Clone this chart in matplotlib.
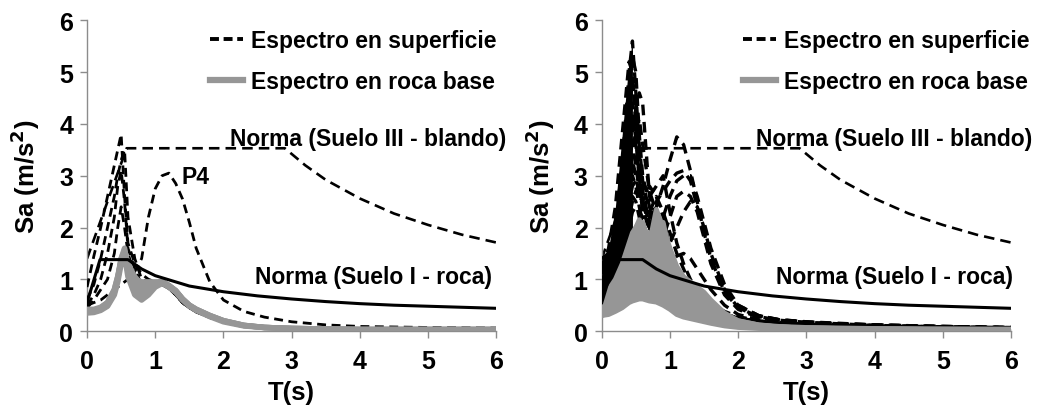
import matplotlib
matplotlib.use("Agg")
import matplotlib.pyplot as plt
from matplotlib.lines import Line2D
import numpy as np

plt.rcParams['font.family'] = ['Liberation Sans', 'DejaVu Sans']
plt.rcParams['font.weight'] = 'bold'
plt.rcParams['mathtext.default'] = 'bf'

# ---------------- data ----------------
T = [0, 0.1, 0.2, 0.3, 0.4, 0.45, 0.5, 0.55, 0.6, 0.7, 0.8, 0.9, 1.0, 1.1, 1.2,
     1.3, 1.4, 1.5, 1.6, 1.8, 2.0, 2.3, 2.6, 3.0, 3.5, 4.0, 5.0, 6.0]

# Norma spectra
T_norma_I = [0, 0.19, 0.6, 0.8, 1.0, 1.5, 2.0, 2.5, 3.0, 3.5, 4.0, 4.5, 5.0, 5.5, 6.0]
Sa_norma_I = [0.55, 1.38, 1.38, 1.20, 1.07, 0.87, 0.76, 0.68, 0.62, 0.57, 0.53, 0.50, 0.48, 0.46, 0.44]
T_norma_III = [0, 0.58, 2.9, 3.2, 3.5, 4.0, 4.5, 5.0, 5.5, 6.0]
Sa_norma_III = [1.40, 3.53, 3.53, 3.20, 2.92, 2.56, 2.27, 2.05, 1.86, 1.71]

# Left panel: surface spectra (dashed) and rock spectra (grey)
left_surface = [
    [0.85, 1.45, 2.0, 2.6, 3.2, 3.5, 3.8, 2.6, 1.7, 1.3, 1.1, 1.0, 0.95, 0.95, 0.85, 0.7, 0.55, 0.45, 0.38, 0.27, 0.2, 0.13, 0.09, 0.07, 0.06, 0.05, 0.04, 0.04],
    [0.6, 0.9, 1.4, 2.0, 2.6, 3.0, 3.3, 3.5, 2.2, 1.4, 1.0, 0.95, 0.9, 0.95, 0.85, 0.7, 0.55, 0.45, 0.38, 0.27, 0.2, 0.12, 0.09, 0.07, 0.06, 0.05, 0.04, 0.04],
    [0.5, 0.7, 1.0, 1.5, 2.2, 2.8, 3.1, 2.5, 1.6, 1.2, 0.9, 0.85, 0.85, 0.9, 0.82, 0.7, 0.55, 0.45, 0.37, 0.26, 0.19, 0.12, 0.08, 0.06, 0.05, 0.04, 0.04, 0.03],
    [0.45, 0.6, 0.8, 1.0, 1.5, 2.0, 2.4, 2.0, 1.5, 1.1, 0.8, 0.8, 0.85, 0.9, 0.82, 0.7, 0.55, 0.45, 0.37, 0.26, 0.19, 0.12, 0.08, 0.06, 0.05, 0.04, 0.04, 0.03],
]
P4 = [0.5, 0.55, 0.6, 0.7, 0.8, 0.85, 0.9, 0.95, 1.0, 1.15, 1.4, 2.2, 2.75, 3.0, 3.05, 2.85, 2.55, 2.1, 1.6, 0.95, 0.6, 0.38, 0.27, 0.18, 0.12, 0.09, 0.07, 0.06]
left_rock = [
    [0.38, 0.38, 0.42, 0.5, 0.75, 1.0, 1.4, 1.6, 1.15, 0.85, 0.75, 0.85, 0.9, 0.95, 0.88, 0.78, 0.62, 0.5, 0.42, 0.3, 0.2, 0.11, 0.07, 0.05, 0.04, 0.03, 0.03, 0.03],
    [0.4, 0.4, 0.45, 0.55, 0.8, 1.05, 1.35, 1.5, 1.2, 1.0, 0.95, 0.95, 0.95, 0.95, 0.88, 0.78, 0.62, 0.5, 0.42, 0.3, 0.2, 0.11, 0.07, 0.05, 0.04, 0.03, 0.03, 0.03],
    [0.35, 0.36, 0.4, 0.48, 0.7, 0.95, 1.3, 1.45, 1.05, 0.7, 0.6, 0.7, 0.85, 0.92, 0.85, 0.75, 0.6, 0.48, 0.4, 0.28, 0.18, 0.1, 0.07, 0.05, 0.04, 0.03, 0.03, 0.03],
    [0.42, 0.42, 0.46, 0.55, 0.8, 1.05, 1.4, 1.55, 1.3, 1.05, 0.9, 0.88, 0.92, 0.96, 0.88, 0.78, 0.62, 0.5, 0.42, 0.3, 0.2, 0.11, 0.07, 0.05, 0.04, 0.03, 0.03, 0.03],
]

# Right panel: surface spectra (dashed) and rock spectra (grey)
right_surface = [
    [0.9, 1.3, 2.0, 3.2, 5.0, 5.6, 4.6, 3.6, 2.9, 2.3, 2.0, 1.6, 1.2, 0.95, 0.8, 0.65, 0.55, 0.45, 0.38, 0.28, 0.22, 0.17, 0.14, 0.12, 0.1, 0.09, 0.07, 0.06],
    [1.1, 1.4, 1.9, 2.8, 4.6, 5.3, 5.0, 3.8, 3.0, 2.4, 1.9, 1.5, 1.2, 1.0, 0.85, 0.7, 0.58, 0.48, 0.4, 0.3, 0.24, 0.18, 0.15, 0.13, 0.11, 0.09, 0.07, 0.06],
    [1.3, 1.4, 1.6, 2.2, 3.2, 3.8, 4.3, 4.6, 4.4, 2.6, 2.2, 2.0, 1.6, 1.2, 0.95, 0.75, 0.6, 0.5, 0.42, 0.32, 0.25, 0.19, 0.16, 0.14, 0.12, 0.1, 0.08, 0.07],
    [0.7, 1.0, 1.5, 2.4, 4.0, 4.4, 4.0, 3.2, 2.6, 2.0, 1.7, 1.4, 1.1, 0.9, 0.75, 0.6, 0.5, 0.42, 0.35, 0.26, 0.2, 0.15, 0.12, 0.1, 0.09, 0.08, 0.06, 0.05],
    [0.5, 0.8, 1.3, 2.0, 3.4, 3.6, 3.2, 2.7, 2.4, 2.2, 2.3, 1.9, 1.4, 1.1, 0.9, 0.75, 0.6, 0.5, 0.42, 0.32, 0.25, 0.19, 0.15, 0.12, 0.1, 0.09, 0.07, 0.06],
    [0.4, 0.6, 1.0, 1.5, 2.2, 2.5, 2.7, 2.8, 2.9, 2.6, 2.8, 3.0, 2.3, 1.7, 1.3, 1.0, 0.8, 0.65, 0.52, 0.38, 0.28, 0.2, 0.16, 0.13, 0.11, 0.09, 0.07, 0.06],
    [0.35, 0.35, 0.4, 0.55, 0.8, 1.0, 1.2, 1.4, 1.6, 2.0, 2.4, 2.8, 3.3, 3.75, 3.6, 3.1, 2.5, 1.9, 1.4, 0.75, 0.45, 0.28, 0.22, 0.18, 0.15, 0.12, 0.09, 0.07],
    [0.4, 0.45, 0.6, 0.8, 1.1, 1.3, 1.5, 1.7, 1.9, 2.2, 2.5, 2.7, 2.9, 3.05, 3.1, 2.9, 2.4, 1.9, 1.4, 0.8, 0.5, 0.3, 0.22, 0.17, 0.14, 0.12, 0.09, 0.07],
    [0.5, 0.6, 0.8, 1.1, 1.5, 1.8, 2.0, 2.1, 2.2, 2.3, 2.0, 2.2, 2.6, 2.9, 3.0, 3.0, 2.6, 2.1, 1.6, 0.9, 0.5, 0.3, 0.22, 0.18, 0.14, 0.12, 0.09, 0.07],
    [0.6, 0.8, 1.1, 1.5, 2.0, 2.3, 2.4, 2.3, 2.2, 2.0, 1.7, 1.8, 2.2, 2.6, 2.7, 2.6, 2.3, 1.8, 1.3, 0.7, 0.42, 0.26, 0.2, 0.16, 0.13, 0.11, 0.08, 0.06],
    [0.8, 1.0, 1.3, 1.8, 2.5, 2.8, 2.9, 2.7, 2.5, 2.0, 1.6, 1.5, 1.7, 2.0, 2.3, 2.5, 2.4, 2.0, 1.5, 0.8, 0.45, 0.28, 0.21, 0.17, 0.14, 0.11, 0.08, 0.06],
    [1.0, 1.2, 1.5, 2.0, 2.8, 3.0, 2.8, 2.4, 2.1, 1.7, 1.4, 1.2, 1.3, 1.45, 1.5, 1.4, 1.2, 1.0, 0.8, 0.5, 0.32, 0.22, 0.18, 0.15, 0.12, 0.1, 0.08, 0.06],
    [0.3, 0.5, 0.9, 1.4, 2.2, 2.6, 2.5, 2.2, 2.0, 1.8, 1.6, 1.5, 1.3, 1.1, 0.95, 0.8, 0.65, 0.55, 0.45, 0.33, 0.25, 0.18, 0.14, 0.11, 0.09, 0.08, 0.06, 0.05],
    [1.4, 1.5, 1.7, 2.4, 3.6, 4.0, 3.6, 3.0, 2.5, 2.1, 1.8, 1.5, 1.2, 1.0, 0.85, 0.7, 0.58, 0.48, 0.4, 0.3, 0.23, 0.17, 0.14, 0.12, 0.1, 0.09, 0.07, 0.06],
    [1.2, 1.6, 2.4, 3.8, 5.2, 5.0, 4.0, 3.0, 2.4, 1.9, 1.6, 1.3, 1.05, 0.85, 0.7, 0.58, 0.48, 0.4, 0.34, 0.25, 0.2, 0.15, 0.12, 0.1, 0.09, 0.08, 0.06, 0.05],
    [0.8, 1.2, 1.8, 2.9, 4.3, 4.8, 4.4, 3.4, 2.7, 2.1, 1.8, 1.5, 1.2, 0.95, 0.8, 0.65, 0.52, 0.44, 0.37, 0.27, 0.21, 0.16, 0.13, 0.11, 0.09, 0.08, 0.06, 0.05],
    [1.0, 1.1, 1.4, 2.0, 2.9, 3.4, 3.9, 4.1, 3.6, 2.7, 2.3, 1.9, 1.5, 1.15, 0.9, 0.72, 0.58, 0.48, 0.4, 0.3, 0.23, 0.17, 0.14, 0.12, 0.1, 0.09, 0.07, 0.06],
    [0.6, 0.9, 1.6, 2.6, 3.8, 4.2, 3.7, 2.9, 2.3, 2.3, 2.6, 2.2, 1.6, 1.2, 0.95, 0.75, 0.6, 0.5, 0.42, 0.31, 0.24, 0.18, 0.14, 0.12, 0.1, 0.08, 0.06, 0.05],
    [0.45, 0.7, 1.2, 1.9, 2.9, 3.3, 3.0, 2.6, 2.5, 2.8, 2.6, 2.3, 1.9, 1.5, 1.2, 0.9, 0.7, 0.55, 0.45, 0.33, 0.25, 0.18, 0.14, 0.12, 0.1, 0.08, 0.06, 0.05],
]
right_rock = [
    [0.45, 0.8, 1.0, 1.3, 1.7, 1.9, 2.0, 2.1, 2.1, 1.7, 2.35, 2.0, 1.6, 1.25, 1.05, 0.95, 0.85, 0.75, 0.6, 0.35, 0.2, 0.12, 0.09, 0.07, 0.06, 0.05, 0.04, 0.04],
    [0.4, 0.6, 0.8, 1.1, 1.5, 1.8, 2.0, 2.15, 2.0, 1.6, 1.5, 1.4, 1.2, 1.0, 0.85, 0.7, 0.55, 0.45, 0.38, 0.26, 0.18, 0.11, 0.08, 0.06, 0.05, 0.04, 0.04, 0.03],
    [0.35, 0.5, 0.7, 0.9, 1.2, 1.4, 1.5, 1.6, 1.7, 1.9, 1.9, 1.7, 1.4, 1.1, 0.9, 0.75, 0.6, 0.48, 0.4, 0.28, 0.18, 0.11, 0.08, 0.06, 0.05, 0.04, 0.03, 0.03],
    [0.3, 0.4, 0.55, 0.7, 0.9, 1.0, 1.1, 1.2, 1.3, 1.3, 1.2, 1.1, 0.95, 0.8, 0.68, 0.55, 0.45, 0.38, 0.32, 0.22, 0.15, 0.1, 0.07, 0.05, 0.04, 0.04, 0.03, 0.03],
    [0.3, 0.35, 0.45, 0.55, 0.65, 0.7, 0.75, 0.78, 0.8, 0.75, 0.72, 0.65, 0.55, 0.45, 0.38, 0.32, 0.27, 0.23, 0.2, 0.14, 0.1, 0.07, 0.05, 0.04, 0.03, 0.03, 0.02, 0.02],
    [0.3, 0.32, 0.38, 0.45, 0.55, 0.58, 0.6, 0.62, 0.62, 0.58, 0.56, 0.5, 0.42, 0.32, 0.27, 0.24, 0.21, 0.18, 0.15, 0.1, 0.07, 0.05, 0.04, 0.03, 0.03, 0.02, 0.02, 0.02],
    [0.4, 0.55, 0.75, 1.0, 1.3, 1.5, 1.7, 1.8, 1.9, 1.5, 1.8, 2.1, 1.5, 1.15, 0.95, 0.8, 0.7, 0.6, 0.5, 0.3, 0.2, 0.12, 0.08, 0.06, 0.05, 0.04, 0.03, 0.03],
    [0.35, 0.45, 0.6, 0.8, 1.0, 1.1, 1.2, 1.3, 1.4, 1.1, 1.0, 0.95, 0.85, 0.7, 0.6, 0.5, 0.42, 0.35, 0.3, 0.2, 0.14, 0.09, 0.06, 0.05, 0.04, 0.03, 0.03, 0.02],
]

x_ticks = [0, 1, 2, 3, 4, 5, 6]
y_ticks = [0, 1, 2, 3, 4, 5, 6]
legend_labels = ["Espectro en superficie", "Espectro en roca base"]
label_norma_III = "Norma (Suelo III - blando)"
label_norma_I = "Norma (Suelo I - roca)"

GREY = "#969696"
AXGREY = "#8c8c8c"
DASH = (3.2, 2.0)
FS_TXT = 16.5

fig = plt.figure(figsize=(10.4, 4.1), dpi=100)
axL = fig.add_axes([0.0837, 0.190, 0.3935, 0.758])
axR = fig.add_axes([0.5786, 0.190, 0.3935, 0.758])


def style(ax):
    ax.set_xlim(0, 6)
    ax.set_ylim(0, 6)
    ax.set_xticks(x_ticks)
    ax.set_yticks(y_ticks)
    for s in ("top", "right"):
        ax.spines[s].set_visible(False)
    for s in ("left", "bottom"):
        ax.spines[s].set_color(AXGREY)
        ax.spines[s].set_linewidth(1.0)
    ax.tick_params(axis="both", direction="out", length=5, width=1, color=AXGREY,
                   labelsize=18)
    ax.tick_params(axis="x", pad=8)
    ax.tick_params(axis="y", pad=5)
    for lab in ax.get_xticklabels() + ax.get_yticklabels():
        lab.set_fontweight("bold")
    ax.set_xlabel("T(s)", fontsize=18.5, fontweight="bold", labelpad=5)
    ax.set_ylabel("Sa (m/s$^{2}$)", fontsize=18.5, fontweight="bold", labelpad=12)
    ax.patch.set_alpha(0)


def draw(ax, surface, rock, extra=None, lw_s=1.8, lw_r=3.0, fill_black_until=None):
    ax.plot(T_norma_III, Sa_norma_III, color="black", lw=1.9, ls=(0, (4, 2.3)), zorder=2)
    sa = np.array(surface)
    tt = np.array(T)
    if fill_black_until is not None:
        ax.fill_between(tt, sa.min(axis=0), sa.max(axis=0), where=tt <= fill_black_until,
                        color="black", lw=0, zorder=3)
    for s in surface:
        ax.plot(T, s, color="black", lw=lw_s, ls=(0, DASH), zorder=3)
    if extra is not None:
        ax.plot(T, extra, color="black", lw=lw_s, ls=(0, DASH), zorder=3)
    rr = np.array(rock)
    ax.fill_between(tt, rr.min(axis=0), rr.max(axis=0), color=GREY, lw=0, zorder=4)
    for r in rock:
        ax.plot(T, r, color=GREY, lw=lw_r, zorder=4, solid_capstyle="round")
    ax.plot(T_norma_I, Sa_norma_I, color="black", lw=2.2, zorder=6)


def legend(ax, x0):
    handles = [Line2D([], [], color="black", lw=2.8, ls=(0, (2.3, 1.2))),
               Line2D([], [], color=GREY, lw=4.5)]
    ax.legend(handles, legend_labels, loc="upper left", bbox_to_anchor=(x0, 0.972),
              frameon=False, handlelength=1.45, handletextpad=0.35,
              labelspacing=0.78, borderpad=0, borderaxespad=0,
              prop={"weight": "bold", "size": FS_TXT})


style(axL)
style(axR)
draw(axL, left_surface, left_rock, extra=P4, lw_s=2.0, lw_r=4.0)
draw(axR, right_surface, right_rock, lw_s=2.4, lw_r=3.5, fill_black_until=0.45)
legend(axL, 0.300)
legend(axR, 0.345)

axL.text(6.14, 3.71, label_norma_III, ha="right", va="center", fontsize=FS_TXT, fontweight="bold")
axL.text(5.93, 1.05, label_norma_I, ha="right", va="center", fontsize=FS_TXT, fontweight="bold")
axR.text(6.31, 3.71, label_norma_III, ha="right", va="center", fontsize=FS_TXT, fontweight="bold")
axR.text(6.03, 1.05, label_norma_I, ha="right", va="center", fontsize=FS_TXT, fontweight="bold")
axL.text(1.39, 2.99, "P4", ha="left", va="center", fontsize=FS_TXT, fontweight="bold")

fig.savefig("out.png", dpi=100)
